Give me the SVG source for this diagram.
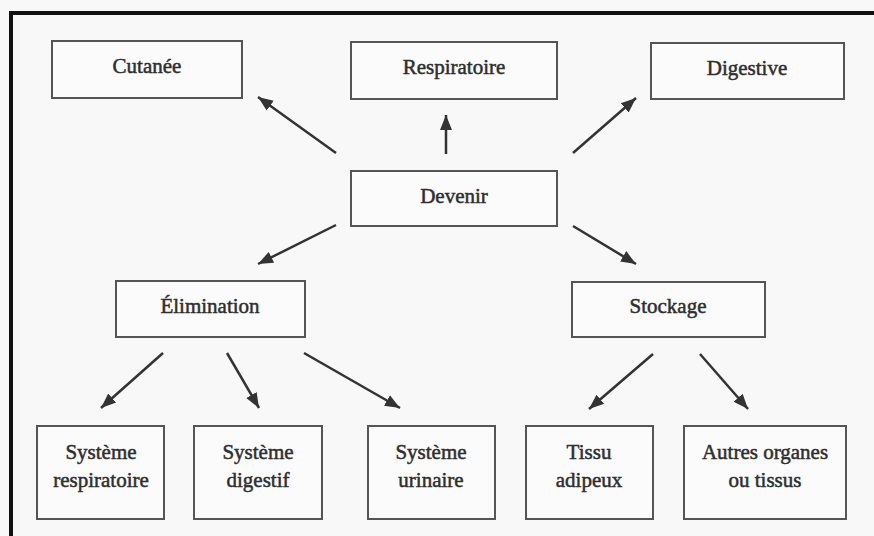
<svg xmlns="http://www.w3.org/2000/svg" width="874" height="536" viewBox="0 0 874 536">
<style>
.box{fill:#fbfbfb;stroke:#555;stroke-width:2}
.t{font-family:'Liberation Serif','Times New Roman','DejaVu Serif',serif;font-size:21px;fill:#2e2e2e;stroke:#2e2e2e;stroke-width:0.5;text-anchor:middle}
.c{stroke:#333;stroke-width:2.5;fill:none;marker-end:url(#ah)}
</style>
<defs>
<marker id="ah" markerUnits="userSpaceOnUse" markerWidth="16" markerHeight="14" viewBox="0 0 16 14" refX="15" refY="7" orient="auto">
<path d="M0,1 L15,7 L0,13 Z" fill="#333"/>
</marker>
</defs>
<rect width="874" height="536" fill="#f8f8f8"/>
<path d="M11,536 V13 H874" fill="none" stroke="#111" stroke-width="4"/>
<g id="connectors">
<line class="c" x1="336" y1="153" x2="258" y2="97"/>
<line class="c" x1="446" y1="154" x2="446" y2="115"/>
<line class="c" x1="573" y1="153" x2="636" y2="98"/>
<line class="c" x1="336" y1="225" x2="258" y2="264"/>
<line class="c" x1="573" y1="226" x2="636" y2="264"/>
<line class="c" x1="163" y1="353" x2="101" y2="408"/>
<line class="c" x1="227" y1="353" x2="259" y2="408"/>
<line class="c" x1="304" y1="353" x2="400" y2="408"/>
<line class="c" x1="653" y1="354" x2="589" y2="409"/>
<line class="c" x1="700" y1="354" x2="748" y2="409"/>
</g>
<g id="cutanee"><rect class="box" x="52" y="41" width="190" height="57"/><text class="t" x="147" y="73">Cutanée</text></g>
<g id="respiratoire"><rect class="box" x="351" y="42" width="206" height="57"/><text class="t" x="454" y="74">Respiratoire</text></g>
<g id="digestive"><rect class="box" x="651" y="43" width="193" height="56"/><text class="t" x="747" y="75">Digestive</text></g>
<g id="devenir"><rect class="box" x="351" y="171" width="206" height="55"/><text class="t" x="454" y="203">Devenir</text></g>
<g id="elimination"><rect class="box" x="116" y="281" width="189" height="56"/><text class="t" x="210" y="313">Élimination</text></g>
<g id="stockage"><rect class="box" x="572" y="282" width="193" height="55"/><text class="t" x="668" y="313">Stockage</text></g>
<g id="sys-resp"><rect class="box" x="37" y="426" width="127" height="93"/><text class="t" x="101" y="459">Système</text><text class="t" x="101" y="487">respiratoire</text></g>
<g id="sys-dig"><rect class="box" x="194" y="426" width="128" height="93"/><text class="t" x="258" y="459">Système</text><text class="t" x="258" y="487">digestif</text></g>
<g id="sys-uri"><rect class="box" x="368" y="426" width="127" height="93"/><text class="t" x="431" y="459">Système</text><text class="t" x="431" y="487">urinaire</text></g>
<g id="tissu"><rect class="box" x="526" y="426" width="127" height="93"/><text class="t" x="589" y="459">Tissu</text><text class="t" x="589" y="487">adipeux</text></g>
<g id="autres"><rect class="box" x="684" y="426" width="162" height="93"/><text class="t" x="765" y="459">Autres organes</text><text class="t" x="765" y="487">ou tissus</text></g>
</svg>
